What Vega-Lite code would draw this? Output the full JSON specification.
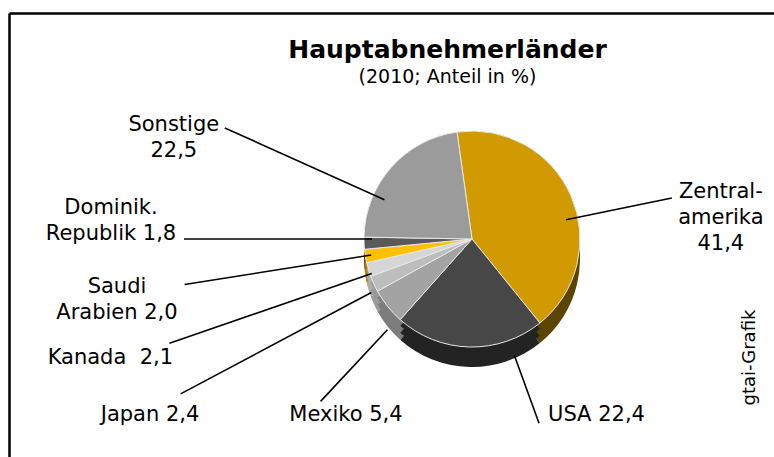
{
  "$schema": "https://vega.github.io/schema/vega-lite/v6.json",
  "autosize": "none",
  "width": 765,
  "height": 444,
  "padding": {"left": 9, "top": 13, "right": 0, "bottom": 0},
  "background": "white",
  "config": {"view": {"stroke": null}, "font": "DejaVu Sans"},
  "title": {
    "text": "Hauptabnehmerländer",
    "subtitle": "(2010; Anteil in %)",
    "font": "DejaVu Sans",
    "fontSize": 25,
    "fontWeight": "bold",
    "color": "black",
    "subtitleFont": "DejaVu Sans",
    "subtitleFontSize": 19,
    "subtitleColor": "black",
    "subtitlePadding": 5,
    "anchor": "middle",
    "offset": 0,
    "dx": 56,
    "dy": 74
  },
  "data": {
    "values": [
      {"country": "Zentralamerika", "value": 41.4, "order": 1, "label": "Zentral-\namerika\n41,4"},
      {"country": "USA", "value": 22.4, "order": 2, "label": "USA 22,4"},
      {"country": "Mexiko", "value": 5.4, "order": 3, "label": "Mexiko 5,4"},
      {"country": "Japan", "value": 2.4, "order": 4, "label": "Japan 2,4"},
      {"country": "Kanada", "value": 2.1, "order": 5, "label": "Kanada \u00a02,1"},
      {"country": "Saudi Arabien", "value": 2.0, "order": 6, "label": "Saudi\nArabien 2,0"},
      {"country": "Dominik. Republik", "value": 1.8, "order": 7, "label": "Dominik.\nRepublik 1,8"},
      {"country": "Sonstige", "value": 22.5, "order": 8, "label": "Sonstige\n22,5"}
    ]
  },
  "transform": [
    {"stack": "value", "groupby": [], "sort": [{"field": "order", "order": "ascending"}], "as": ["v0", "v1"]}
  ],
  "layer": [
    {
      "mark": {"type": "point", "opacity": 0},
      "encoding": {
        "x": {"field": "value", "type": "quantitative", "axis": {"orient": "top", "domain": true, "domainColor": "black", "domainWidth": 2.5, "ticks": false, "labels": false, "grid": false, "title": "gtai-Grafik", "titleAngle": 270, "titleX": 740, "titleY": 344, "titleAlign": "center", "titleBaseline": "middle", "titleFont": "DejaVu Sans", "titleFontSize": 18, "titleFontWeight": "normal", "titleColor": "black"}},
        "y": {"field": "value", "type": "quantitative", "axis": {"orient": "left", "domain": true, "domainColor": "black", "domainWidth": 2.5, "ticks": false, "labels": false, "grid": false, "title": null}}
      }
    },
    {
      "mark": {"type": "arc", "radius": 108, "xOffset": 80.5, "yOffset": 24},
      "encoding": {
        "theta": {"field": "v0", "type": "quantitative", "stack": null, "scale": {"domain": [0, 100], "range": [-0.1396, 6.1436]}},
        "theta2": {"field": "v1"},
        "fill": {"field": "country", "type": "nominal", "legend": null, "scale": {"domain": ["Zentralamerika", "USA", "Mexiko", "Japan", "Kanada", "Saudi Arabien", "Dominik. Republik", "Sonstige"], "range": ["#5c4500", "#232323", "#7d7d7d", "#9a9a9a", "#adadad", "#b08400", "#3d3d3d", "#737373"]}}
      }
    },
    {
      "mark": {"type": "arc", "radius": 108, "xOffset": 80.5, "yOffset": 17},
      "encoding": {
        "theta": {"field": "v0", "type": "quantitative", "stack": null, "scale": {"domain": [0, 100], "range": [-0.1396, 6.1436]}},
        "theta2": {"field": "v1"},
        "fill": {"field": "country", "type": "nominal", "legend": null}
      }
    },
    {
      "mark": {"type": "arc", "radius": 108, "xOffset": 80.5, "yOffset": 10},
      "encoding": {
        "theta": {"field": "v0", "type": "quantitative", "stack": null, "scale": {"domain": [0, 100], "range": [-0.1396, 6.1436]}},
        "theta2": {"field": "v1"},
        "fill": {"field": "country", "type": "nominal", "legend": null}
      }
    },
    {
      "mark": {"type": "arc", "radius": 108, "xOffset": 80.5, "yOffset": 4, "stroke": "#e8e8e8", "strokeWidth": 1},
      "encoding": {
        "theta": {"field": "v0", "type": "quantitative", "stack": null, "scale": {"domain": [0, 100], "range": [-0.1396, 6.1436]}},
        "theta2": {"field": "v1"},
        "color": {"field": "country", "type": "nominal", "legend": null, "scale": {"domain": ["Zentralamerika", "USA", "Mexiko", "Japan", "Kanada", "Saudi Arabien", "Dominik. Republik", "Sonstige"], "range": ["#d09a00", "#474747", "#a3a3a3", "#bdbdbd", "#d6d6d6", "#ffc000", "#595959", "#9b9b9b"]}}
      }
    },
    {
      "transform": [{"filter": "datum.country === 'Zentralamerika'"}],
      "layer": [
        {"mark": {"type": "arc", "radius": 204, "radius2": 96, "thetaOffset": 1.508, "theta2Offset": 1.508, "xOffset": 80.5, "yOffset": 4, "stroke": "black", "strokeWidth": 1.6, "fillOpacity": 0},
         "encoding": {"theta": {"field": "v0", "type": "quantitative", "stack": null}, "theta2": {"field": "v0"}}},
        {"mark": {"type": "text", "radius": 204, "thetaOffset": 1.508, "dx": 129.5, "dy": 4, "align": "center", "baseline": "alphabetic", "lineBreak": "\n", "lineHeight": 26, "fontSize": 21, "font": "DejaVu Sans", "color": "black"},
         "encoding": {"theta": {"field": "v0", "type": "quantitative", "stack": null}, "text": {"field": "label"}}}
      ]
    },
    {
      "transform": [{"filter": "datum.country === 'USA'"}],
      "layer": [
        {"mark": {"type": "arc", "radius": 196, "radius2": 124, "thetaOffset": 0.3309, "theta2Offset": 0.3309, "xOffset": 80.5, "yOffset": 4, "stroke": "black", "strokeWidth": 1.6, "fillOpacity": 0},
         "encoding": {"theta": {"field": "v0", "type": "quantitative", "stack": null}, "theta2": {"field": "v0"}}},
        {"mark": {"type": "text", "radius": 196, "thetaOffset": 0.3309, "dx": 89.5, "dy": 2, "align": "left", "baseline": "alphabetic", "lineBreak": "\n", "lineHeight": 26, "fontSize": 21, "font": "DejaVu Sans", "color": "black"},
         "encoding": {"theta": {"field": "v0", "type": "quantitative", "stack": null}, "text": {"field": "label"}}}
      ]
    },
    {
      "transform": [{"filter": "datum.country === 'Mexiko'"}],
      "layer": [
        {"mark": {"type": "arc", "radius": 222, "radius2": 124, "thetaOffset": 0.023, "theta2Offset": 0.023, "xOffset": 80.5, "yOffset": 4, "stroke": "black", "strokeWidth": 1.6, "fillOpacity": 0},
         "encoding": {"theta": {"field": "v0", "type": "quantitative", "stack": null}, "theta2": {"field": "v0"}}},
        {"mark": {"type": "text", "radius": 222, "thetaOffset": 0.023, "dx": 105.9, "dy": 23.6, "align": "center", "baseline": "alphabetic", "lineBreak": "\n", "lineHeight": 26, "fontSize": 21, "font": "DejaVu Sans", "color": "black"},
         "encoding": {"theta": {"field": "v0", "type": "quantitative", "stack": null}, "text": {"field": "label"}}}
      ]
    },
    {
      "transform": [{"filter": "datum.country === 'Japan'"}],
      "layer": [
        {"mark": {"type": "arc", "radius": 330, "radius2": 114, "thetaOffset": 0.0154, "theta2Offset": 0.0154, "xOffset": 80.5, "yOffset": 4, "stroke": "black", "strokeWidth": 1.6, "fillOpacity": 0},
         "encoding": {"theta": {"field": "v0", "type": "quantitative", "stack": null}, "theta2": {"field": "v0"}}},
        {"mark": {"type": "text", "radius": 330, "thetaOffset": 0.0154, "dx": 49.9, "dy": 31, "align": "center", "baseline": "alphabetic", "lineBreak": "\n", "lineHeight": 26, "fontSize": 21, "font": "DejaVu Sans", "color": "black"},
         "encoding": {"theta": {"field": "v0", "type": "quantitative", "stack": null}, "text": {"field": "label"}}}
      ]
    },
    {
      "transform": [{"filter": "datum.country === 'Kanada'"}],
      "layer": [
        {"mark": {"type": "arc", "radius": 320, "radius2": 106, "thetaOffset": 0.0216, "theta2Offset": 0.0216, "xOffset": 80.5, "yOffset": 4, "stroke": "black", "strokeWidth": 1.6, "fillOpacity": 0},
         "encoding": {"theta": {"field": "v0", "type": "quantitative", "stack": null}, "theta2": {"field": "v0"}}},
        {"mark": {"type": "text", "radius": 320, "thetaOffset": 0.0216, "dx": 84.1, "dy": 24.8, "align": "right", "baseline": "alphabetic", "lineBreak": "\n", "lineHeight": 26, "fontSize": 21, "font": "DejaVu Sans", "color": "black"},
         "encoding": {"theta": {"field": "v0", "type": "quantitative", "stack": null}, "text": {"field": "label"}}}
      ]
    },
    {
      "transform": [{"filter": "datum.country === 'Saudi Arabien'"}],
      "layer": [
        {"mark": {"type": "arc", "radius": 291, "radius2": 102, "thetaOffset": 0.0642, "theta2Offset": 0.0642, "xOffset": 80.5, "yOffset": 4, "stroke": "black", "strokeWidth": 1.6, "fillOpacity": 0},
         "encoding": {"theta": {"field": "v0", "type": "quantitative", "stack": null}, "theta2": {"field": "v0"}}},
        {"mark": {"type": "text", "radius": 291, "thetaOffset": 0.0642, "dx": 12.9, "dy": 12.5, "align": "center", "baseline": "alphabetic", "lineBreak": "\n", "lineHeight": 26, "fontSize": 21, "font": "DejaVu Sans", "color": "black"},
         "encoding": {"theta": {"field": "v0", "type": "quantitative", "stack": null}, "text": {"field": "label"}}}
      ]
    },
    {
      "transform": [{"filter": "datum.country === 'Dominik. Republik'"}],
      "layer": [
        {"mark": {"type": "arc", "radius": 288, "radius2": 100, "thetaOffset": 0.0956, "theta2Offset": 0.0956, "xOffset": 80.5, "yOffset": 4, "stroke": "black", "strokeWidth": 1.6, "fillOpacity": 0},
         "encoding": {"theta": {"field": "v0", "type": "quantitative", "stack": null}, "theta2": {"field": "v0"}}},
        {"mark": {"type": "text", "radius": 288, "thetaOffset": 0.0956, "dx": 7.5, "dy": -21, "align": "center", "baseline": "alphabetic", "lineBreak": "\n", "lineHeight": 26, "fontSize": 21, "font": "DejaVu Sans", "color": "black"},
         "encoding": {"theta": {"field": "v0", "type": "quantitative", "stack": null}, "text": {"field": "label"}}}
      ]
    },
    {
      "transform": [{"filter": "datum.country === 'Sonstige'"}],
      "layer": [
        {"mark": {"type": "arc", "radius": 271, "radius2": 96, "thetaOffset": 0.4049, "theta2Offset": 0.4049, "xOffset": 80.5, "yOffset": 4, "stroke": "black", "strokeWidth": 1.6, "fillOpacity": 0},
         "encoding": {"theta": {"field": "v0", "type": "quantitative", "stack": null}, "theta2": {"field": "v0"}}},
        {"mark": {"type": "text", "radius": 271, "thetaOffset": 0.4049, "dx": 29.5, "dy": 7, "align": "center", "baseline": "alphabetic", "lineBreak": "\n", "lineHeight": 26, "fontSize": 21, "font": "DejaVu Sans", "color": "black"},
         "encoding": {"theta": {"field": "v0", "type": "quantitative", "stack": null}, "text": {"field": "label"}}}
      ]
    }
  ]
}
